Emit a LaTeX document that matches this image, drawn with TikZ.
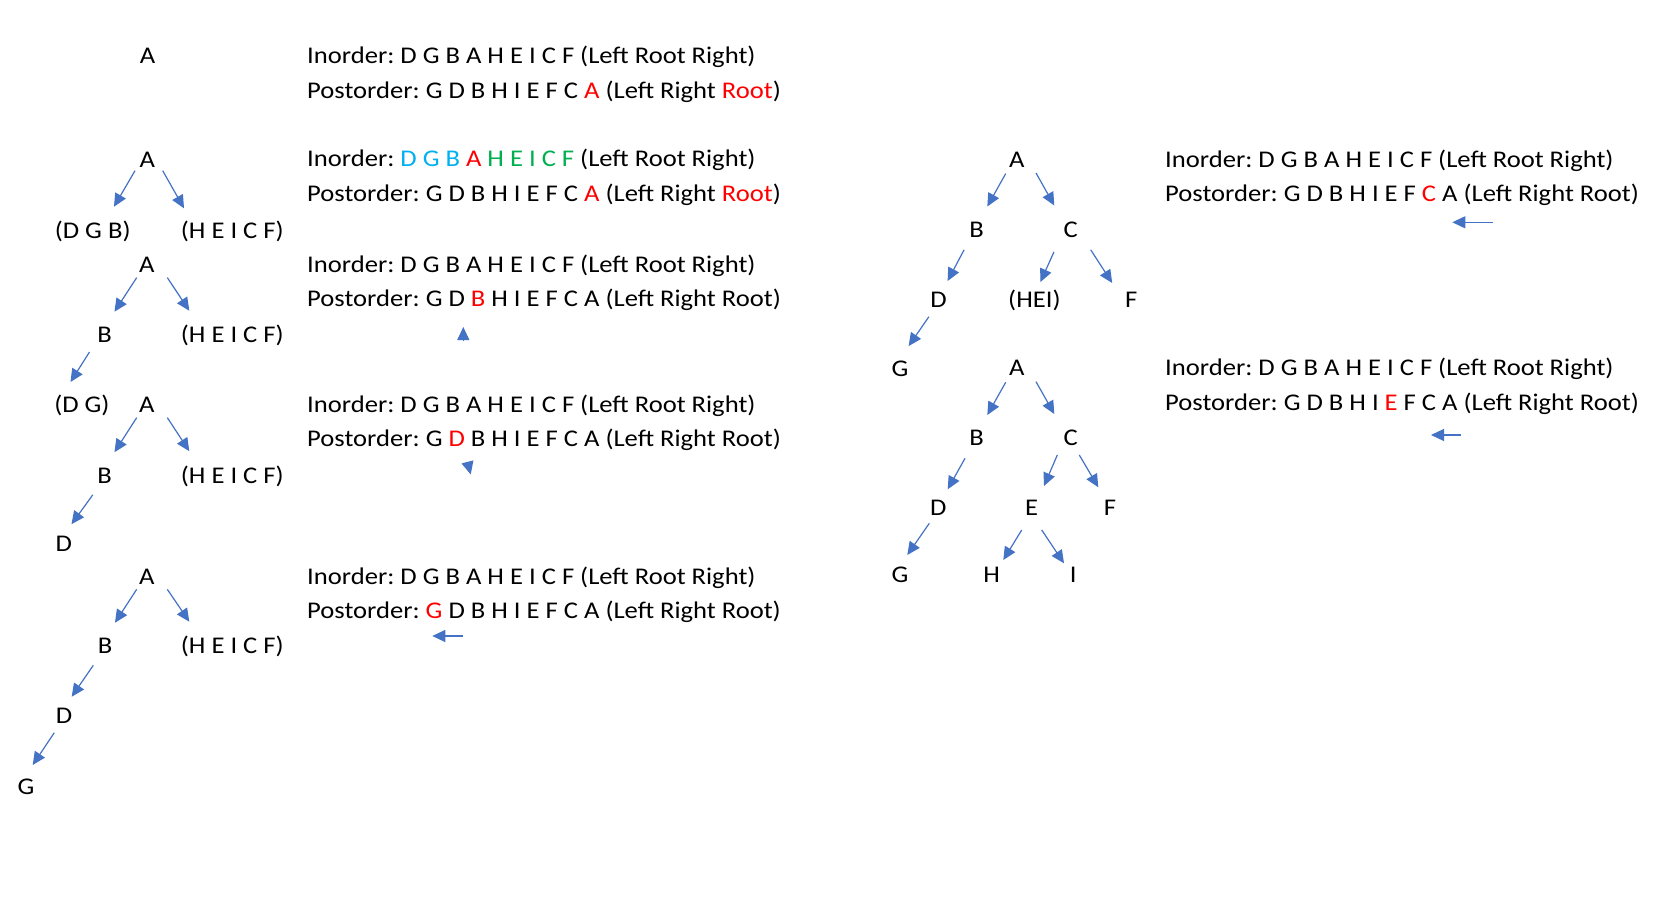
\documentclass[tikz,border=0pt]{standalone}
\usepackage{fontspec}
\setmainfont{Carlito}
\usepackage{graphicx}
\usetikzlibrary{arrows.meta,calc}
\definecolor{arrblue}{HTML}{4472C4}
\definecolor{myred}{HTML}{FF0000}
\definecolor{mycyan}{HTML}{00B0F0}
\definecolor{mygreen}{HTML}{00B050}
\newcommand{\sq}[1]{\scalebox{1}[0.9]{#1}}
\newcommand{\rd}[1]{\textcolor{myred}{#1}}
\frenchspacing
\tikzset{
  lab/.style={inner sep=0pt, text height=15pt, text depth=0pt, font=\fontsize{26.6}{30}\selectfont\frenchspacing},
  txt/.style={lab, anchor=west},
  arr/.style={draw=arrblue, line width=1.2pt, -{Triangle[length=13pt,width=12pt]}},
}
\begin{document}
\begin{tikzpicture}[x=1pt,y=-1pt]
\useasboundingbox[fill=white] (0,0) rectangle (1667,907);

% ---------- Row 0 ----------
\node[lab] (r0a) at (147.5,56) {\sq{A}};
\node[txt] (i0) at (307,56) {\sq{Inorder: D G B A H E I C F (Left Root Right)}};
\node[txt] (p0) at (307,91) {\sq{Postorder: G D B H I E F C \rd{A} (Left Right \rd{Root})}};

% ---------- Tree 1 ----------
\node[lab] (t1a) at (147.3,160) {\sq{A}};
\node[lab] (t1l) at (92.7,231) {\sq{(D G B)}};
\node[lab] (t1r) at (232.3,231) {\sq{(H E I C F)}};
\draw[arr] ($(t1a)+(-12.3,10.7)$) -- ($(t1l)+(21.3,-24.3)$);
\draw[arr] ($(t1a)+(15.4,10.7)$) -- ($(t1r)+(-48.3,-22.7)$);
\node[txt] (i1) at (307,159) {\sq{Inorder: \textcolor{mycyan}{D G B} \rd{A} \textcolor{mygreen}{H E I C F} (Left Root Right)}};
\node[txt] (p1) at (307,194) {\sq{Postorder: G D B H I E F C \rd{A} (Left Right \rd{Root})}};

% ---------- Tree 2 ----------
\node[lab] (t2a) at (146.7,265) {\sq{A}};
\node[lab] (t2b) at (104.5,335) {\sq{B}};
\node[lab] (t2r) at (232.3,335) {\sq{(H E I C F)}};
\node[lab] (t2dg) at (81.9,405) {\sq{(D G)}};
\draw[arr] ($(t2a)+(-10,12.6)$) -- ($(t2b)+(10,-23.3)$);
\draw[arr] ($(t2a)+(20.6,12.6)$) -- ($(t2r)+(-43,-24.3)$);
\draw[arr] ($(t2b)+(-15,17)$) -- ($(t2dg)+(-11.4,-23)$);
\node[txt] (i2) at (307,265) {\sq{Inorder: D G B A H E I C F (Left Root Right)}};
\node[txt] (p2) at (307,299) {\sq{Postorder: G D \rd{B} H I E F C A (Left Right Root)}};
\coordinate (u2s) at (463.3,340);
\coordinate (u2e) at (463.3,327);
\draw[arr] (u2s) -- (u2e);

% ---------- Tree 3 ----------
\node[lab] (t3a) at (146.7,405) {\sq{A}};
\node[lab] (t3b) at (104.5,475.5) {\sq{B}};
\node[lab] (t3r) at (232.3,475.5) {\sq{(H E I C F)}};
\node[lab] (t3d) at (63.8,543.5) {\sq{D}};
\draw[arr] ($(t3a)+(-10,12.6)$) -- ($(t3b)+(10,-23.3)$);
\draw[arr] ($(t3a)+(20.6,12.6)$) -- ($(t3r)+(-43,-24.3)$);
\draw[arr] ($(t3b)+(-11.7,19.3)$) -- ($(t3d)+(7.7,-19.3)$);
\node[txt] (i3) at (307,405) {\sq{Inorder: D G B A H E I C F (Left Root Right)}};
\node[txt] (p3) at (307,439) {\sq{Postorder: G \rd{D} B H I E F C A (Left Right Root)}};
\coordinate (d3s) at (467.5,462);
\coordinate (d3e) at (470.7,474.5);
\draw[arr] (d3s) -- (d3e);

% ---------- Tree 4 ----------
\node[lab] (t4a) at (146.7,576.7) {\sq{A}};
\node[lab] (t4b) at (105,646) {\sq{B}};
\node[lab] (t4r) at (232.3,646) {\sq{(H E I C F)}};
\node[lab] (t4d) at (64,716) {\sq{D}};
\node[lab] (t4g) at (26,786.7) {\sq{G}};
\draw[arr] ($(t4a)+(-10,12.6)$) -- ($(t4b)+(10,-23.3)$);
\draw[arr] ($(t4a)+(20.6,12.6)$) -- ($(t4r)+(-43,-24.3)$);
\draw[arr] ($(t4b)+(-11.7,19.3)$) -- ($(t4d)+(7.7,-19.3)$);
\draw[arr] ($(t4d)+(-9.7,16.7)$) -- ($(t4g)+(6.7,-21.7)$);
\node[txt] (i4) at (307,576.5) {\sq{Inorder: D G B A H E I C F (Left Root Right)}};
\node[txt] (p4) at (307,610.5) {\sq{Postorder: \rd{G} D B H I E F C A (Left Right Root)}};
\coordinate (l4s) at (463.3,636);
\coordinate (l4e) at (432.3,636);
\draw[arr] (l4s) -- (l4e);

% ---------- Tree 5 ----------
\node[lab] (t5a) at (1016.7,159.6) {\sq{A}};
\node[lab] (t5b) at (976.7,229.8) {\sq{B}};
\node[lab] (t5c) at (1070.7,229.8) {\sq{C}};
\node[lab] (t5d) at (938.5,300) {\sq{D}};
\node[lab] (t5h) at (1034.4,300) {\sq{(HEI)}};
\node[lab] (t5f) at (1131.2,300) {\sq{F}};
\node[lab] (t5g) at (900,368.5) {\sq{G}};
\draw[arr] ($(t5a)+(-11,14)$) -- ($(t5b)+(10.6,-23.3)$);
\draw[arr] ($(t5a)+(19.3,13.4)$) -- ($(t5c)+(-16.4,-24.3)$);
\draw[arr] ($(t5b)+(-12.6,20)$) -- ($(t5d)+(9.1,-19)$);
\draw[arr] ($(t5c)+(-16.7,22)$) -- ($(t5h)+(6,-18)$);
\draw[arr] ($(t5c)+(20,20)$) -- ($(t5f)+(-19,-17)$);
\draw[arr] ($(t5d)+(-9.6,16.7)$) -- ($(t5g)+(8.6,-22.4)$);
\node[txt] (i5) at (1165,159.6) {\sq{Inorder: D G B A H E I C F (Left Root Right)}};
\node[txt] (p5) at (1165,193.7) {\sq{Postorder: G D B H I E F \rd{C} A (Left Right Root)}};
\coordinate (l5s) at (1493.3,222.3);
\coordinate (l5e) at (1452.3,222.3);
\draw[arr] (l5s) -- (l5e);

% ---------- Tree 6 ----------
\node[lab] (t6a) at (1016.7,368.3) {\sq{A}};
\node[lab] (t6b) at (976.7,438.3) {\sq{B}};
\node[lab] (t6c) at (1070.7,438.3) {\sq{C}};
\node[lab] (t6d) at (938.3,508.3) {\sq{D}};
\node[lab] (t6e) at (1031.7,508.3) {\sq{E}};
\node[lab] (t6f) at (1110,508.3) {\sq{F}};
\node[lab] (t6g) at (900,575) {\sq{G}};
\node[lab] (t6h) at (991.7,575) {\sq{H}};
\node[lab] (t6i) at (1073.3,575) {\sq{I}};
\draw[arr] ($(t6a)+(-11,14)$) -- ($(t6b)+(10.6,-23.3)$);
\draw[arr] ($(t6a)+(19.3,13.4)$) -- ($(t6c)+(-16.4,-24.3)$);
\draw[arr] ($(t6b)+(-11.7,20)$) -- ($(t6d)+(9.4,-19)$);
\draw[arr] ($(t6c)+(-13.4,16.7)$) -- ($(t6e)+(12.3,-22.3)$);
\draw[arr] ($(t6c)+(8.6,16.7)$) -- ($(t6f)+(-11.7,-21)$);
\draw[arr] ($(t6d)+(-9,15)$) -- ($(t6g)+(7.3,-20)$);
\draw[arr] ($(t6e)+(-10,21.7)$) -- ($(t6h)+(11.6,-15)$);
\draw[arr] ($(t6e)+(10,21.7)$) -- ($(t6i)+(-9.3,-11.7)$);
\node[txt] (i6) at (1165,368.3) {\sq{Inorder: D G B A H E I C F (Left Root Right)}};
\node[txt] (p6) at (1165,403.3) {\sq{Postorder: G D B H I \rd{E} F C A (Left Right Root)}};
\coordinate (l6s) at (1460.7,435);
\coordinate (l6e) at (1431,435);
\draw[arr] (l6s) -- (l6e);
\end{tikzpicture}
\end{document}
